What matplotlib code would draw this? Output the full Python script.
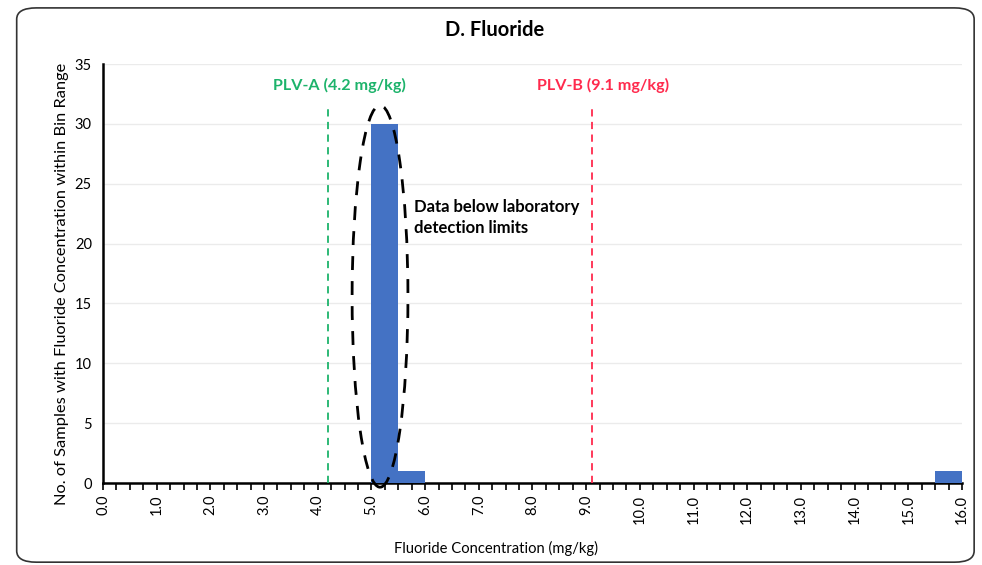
import numpy as np
import matplotlib
matplotlib.use("Agg")
import matplotlib.pyplot as plt
from matplotlib.patches import Ellipse, FancyBboxPatch
from matplotlib.ticker import MultipleLocator, FormatStrFormatter

plt.rcParams['font.family'] = ['Lato', 'DejaVu Sans']

# histogram bins (left edges, width 0.5 mg/kg) and sample counts
bin_left = [5.0, 5.5, 15.5]
counts = [30, 1, 1]
bin_width = 0.5

plv_a = 4.2
plv_b = 9.1

fig = plt.figure(figsize=(9.82, 5.65), dpi=100)

# rounded frame around the whole chart
frame = FancyBboxPatch((0.017, 0.005), 0.975, 0.981,
                       boxstyle="round,pad=0,rounding_size=0.02",
                       transform=fig.transFigure, fill=False,
                       edgecolor='#333333', linewidth=1.2)
fig.patches.append(frame)

ax = fig.add_axes([0.1049, 0.1451, 0.8747, 0.7416])

ax.bar(bin_left, counts, width=bin_width, align='edge', color='#4472c4', zorder=3)

ax.set_xlim(0, 16)
ax.set_ylim(0, 35)
ax.xaxis.set_major_locator(MultipleLocator(1))
ax.xaxis.set_minor_locator(MultipleLocator(0.25))
ax.xaxis.set_major_formatter(FormatStrFormatter('%.1f'))
ax.yaxis.set_major_locator(MultipleLocator(5))
ax.tick_params(axis='x', which='both', direction='out', length=5, width=1.2,
               labelrotation=90, labelsize=10.5, colors='black')
ax.tick_params(axis='y', length=0, labelsize=10.5, pad=8)

for s in ['top', 'right']:
    ax.spines[s].set_visible(False)
for s in ['left', 'bottom']:
    ax.spines[s].set_linewidth(1.8)

ax.grid(axis='y', color='#ebebeb', linewidth=1.0, zorder=0)
ax.set_axisbelow(True)

# permissible limit values
ax.plot([plv_a, plv_a], [0, 31.3], color='#1db36b', linestyle=(0, (4, 3)), linewidth=1.3, zorder=4)
ax.plot([plv_b, plv_b], [0, 31.4], color='#ff2a4d', linestyle=(0, (4, 3)), linewidth=1.3, zorder=4)
ax.text(4.41, 33.2, 'PLV-A (4.2 mg/kg)', color='#1db36b', fontsize=11.6,
        fontweight='bold', ha='center', va='center')
ax.text(9.31, 33.2, 'PLV-B (9.1 mg/kg)', color='#ff2a4d', fontsize=11.6,
        fontweight='bold', ha='center', va='center')

# ellipse marking the below-detection-limit samples
ell = Ellipse((5.16, 15.6), width=1.04, height=31.9, fill=False,
              edgecolor='black', linestyle=(0, (5, 4)), linewidth=2.0,
              clip_on=False, zorder=5)
ax.add_patch(ell)
ax.text(5.8, 22.2, 'Data below laboratory\ndetection limits', fontsize=12,
        fontweight='bold', ha='left', va='center', linespacing=1.4)

ax.set_xlabel('Fluoride Concentration (mg/kg)', fontsize=10.6)
ax.xaxis.set_label_coords(0.4575, -0.138)
ax.set_ylabel('No. of Samples with Fluoride Concentration within Bin Range',
              fontsize=11.8)
ax.yaxis.set_label_coords(-0.040, 0.475)

fig.text(0.504, 0.947, 'D. Fluoride', fontsize=14.5, fontweight='bold',
         ha='center', va='center')

fig.savefig('out.png', dpi=100)
